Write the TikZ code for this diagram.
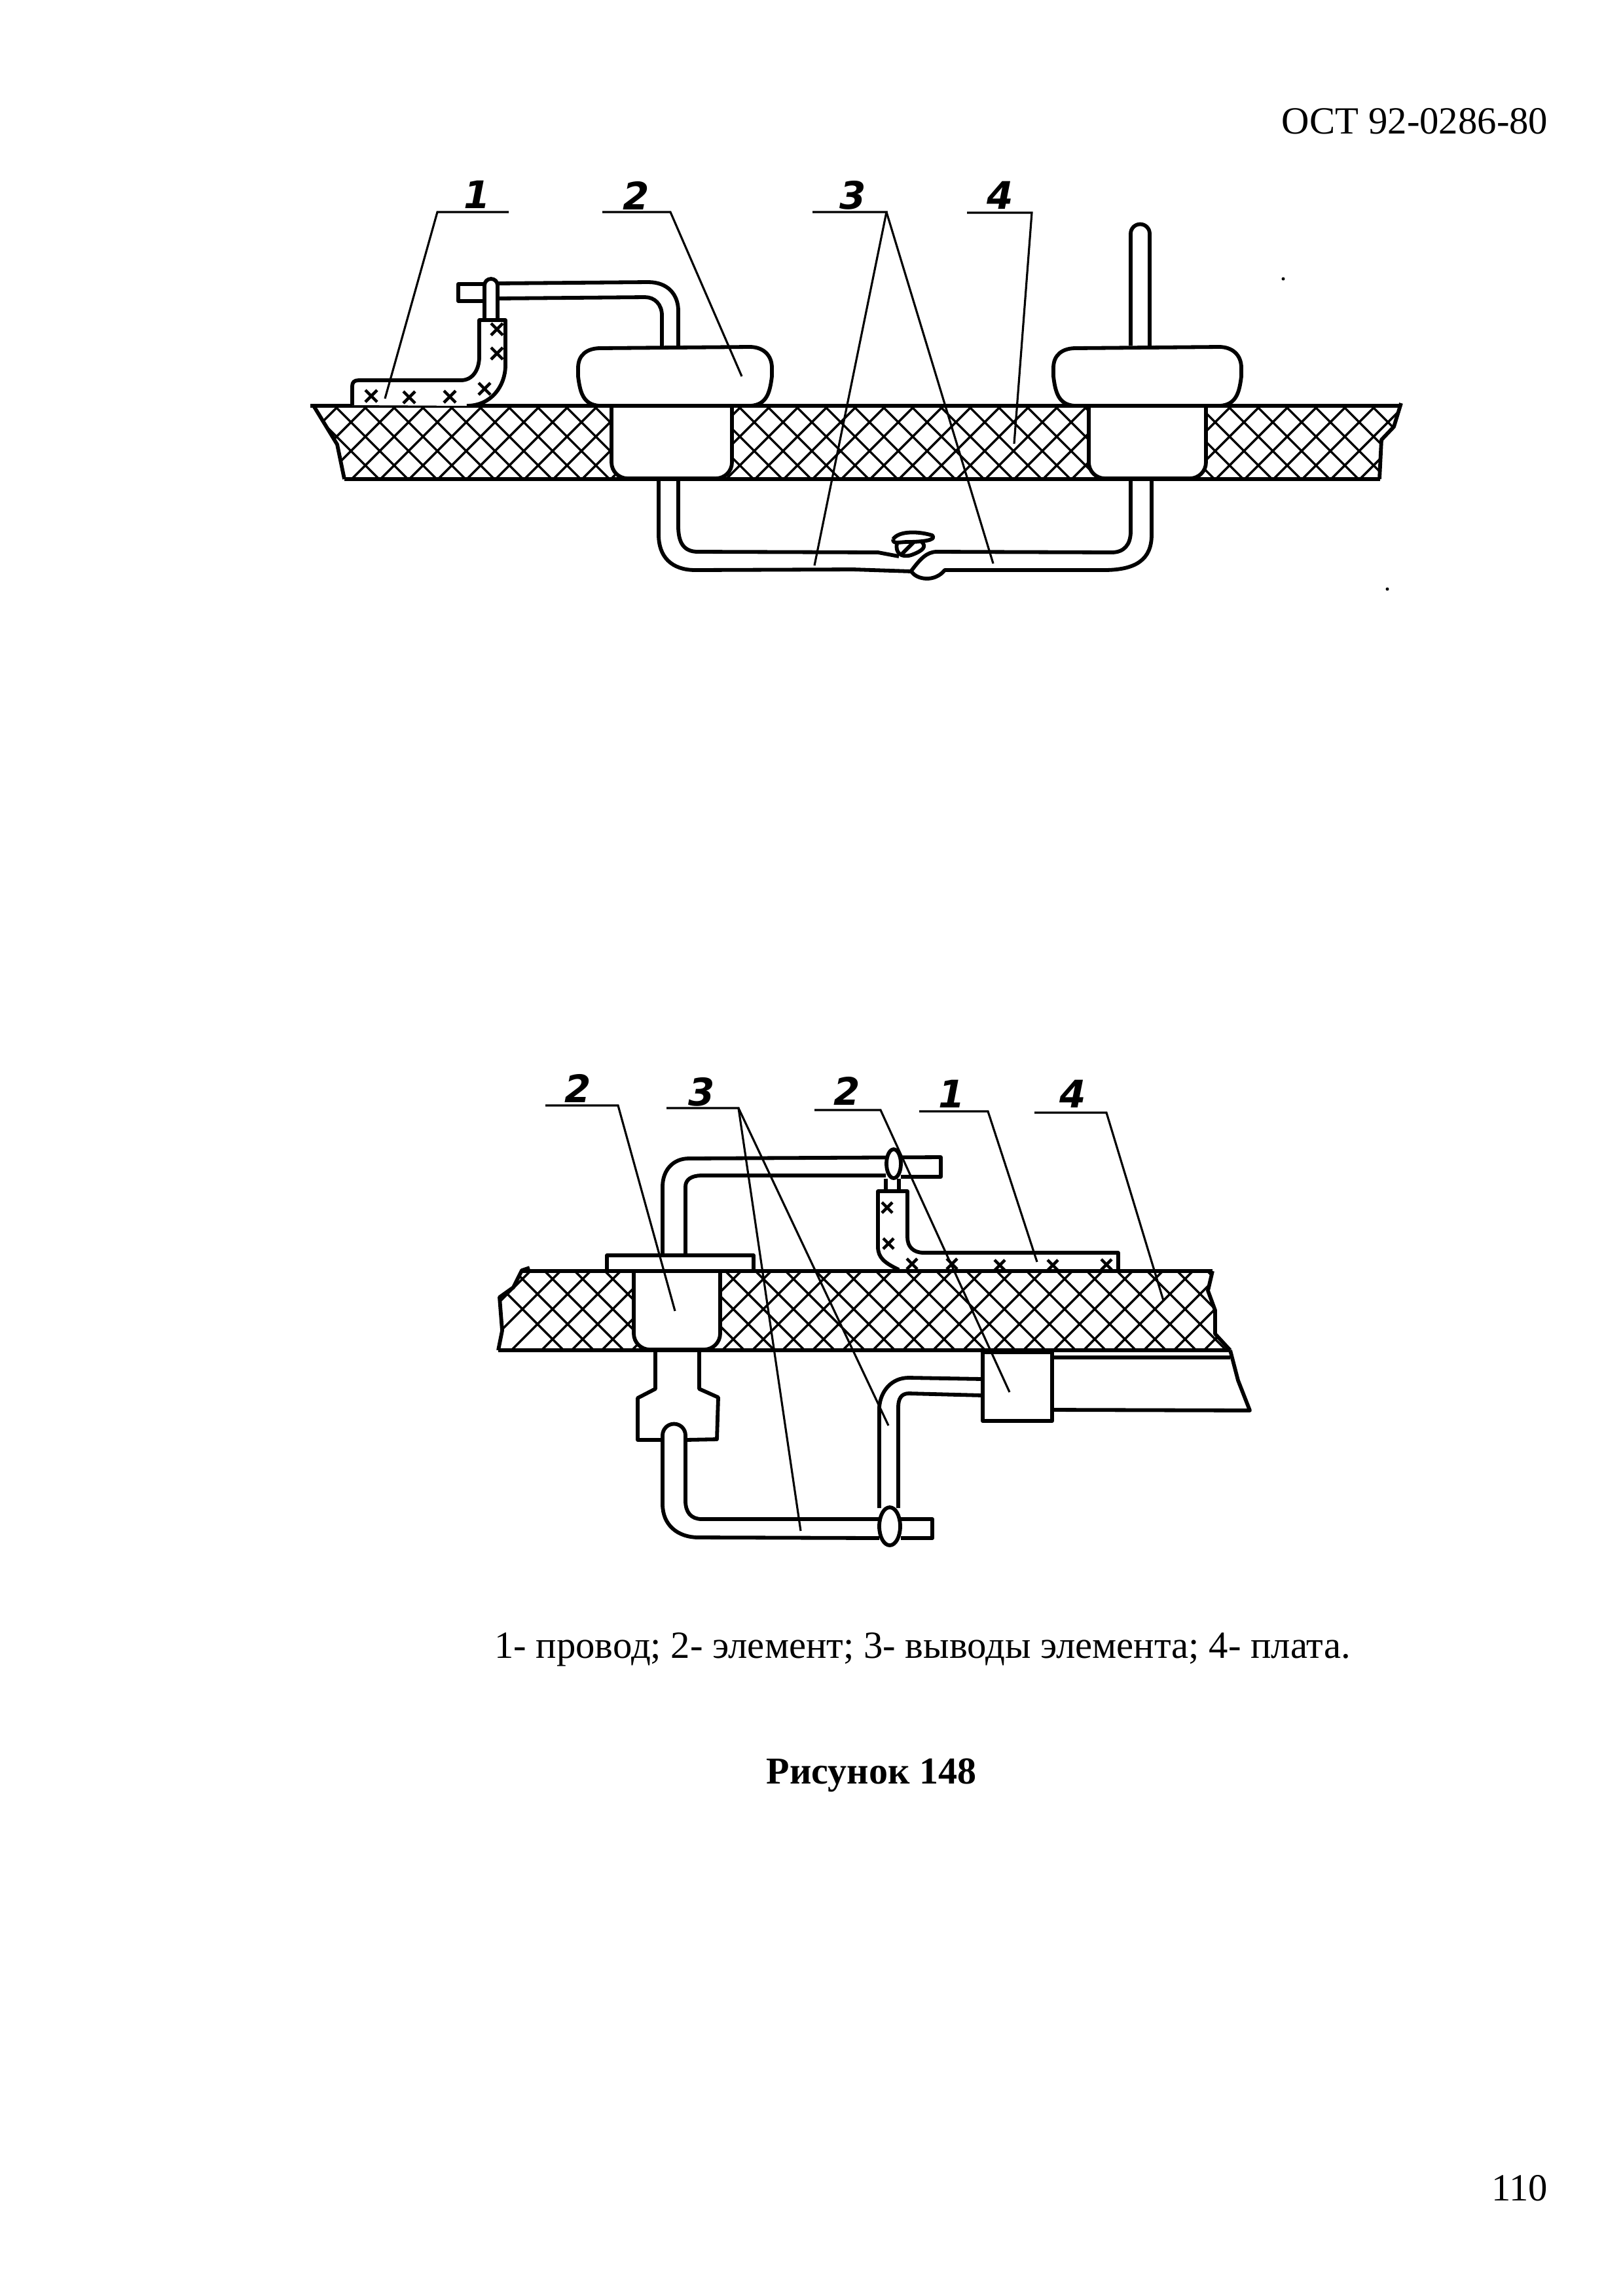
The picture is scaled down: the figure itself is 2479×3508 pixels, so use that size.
\documentclass[tikz,border=0pt]{standalone}
\usepackage{fontspec}
\setmainfont{Liberation Serif}
\newfontfamily\digitfont{DejaVu Sans}
\tikzset{
    contour/.style={line width=1.65pt, line join=round},
    hatchline/.style={line width=1pt},
    leader/.style={line width=0.9pt},
    xmark/.style={line width=1.3pt},
    numeral/.style={font=\digitfont\bfseries\itshape\fontsize{16.5}{17}\selectfont, inner sep=0pt},
    pagetext/.style={font=\fontsize{16.7}{20}\selectfont, inner sep=0pt}
}
\begin{document}
\begin{tikzpicture}[x=0.01cm, y=-0.01cm]
    \useasboundingbox (0,0) rectangle (2479,3508);

    % upper view: board hatching
    \begin{scope}
        \clip (479,620) -- (515,679) -- (526,732) -- (2107,732) -- (2110,672) -- (2129,652) -- (2140,620) -- cycle;
        \foreach \hx in {462,506,...,2150} {
            \draw[hatchline] (\hx,615) -- (\hx+122,737);
        }
        \foreach \hx in {478,522,...,2300} {
            \draw[hatchline] (\hx,615) -- (\hx-122,737);
        }
    \end{scope}
    \draw[contour] (474,620) -- (2140,620);
    \draw[contour] (526,732) -- (2108,732);
    \draw[contour] (479,620) -- (515,679) -- (526,732);
    \draw[contour] (2140,616) -- (2129,652) -- (2110,672) -- (2107,732);

    % upper view: elements
    \foreach \bx/\bw/\cx/\cw in {934/184/883/296, 1663/179/1609/287} {
        \draw[contour, fill=white, rounded corners=7pt] (\bx,620) -- (\bx,731) -- (\bx+\bw,731) -- (\bx+\bw,620);
        \draw[contour, fill=white] (\cx+32,620) .. controls (\cx+8,618) and (\cx+3,600) .. (\cx,575) -- (\cx,562) .. controls (\cx,542) and (\cx+14,532) .. (\cx+34,532) -- (\cx+\cw-34,530) .. controls (\cx+\cw-14,530) and (\cx+\cw,542) .. (\cx+\cw,562) -- (\cx+\cw,575) .. controls (\cx+\cw-3,600) and (\cx+\cw-8,618) .. (\cx+\cw-32,620);
        \draw[contour] (\cx,620) -- (\cx+\cw,620);
    }

    % upper view: leads
    \draw[contour] (1036,529) -- (1036,475) .. controls (1036,450) and (1020,431) .. (990,431) -- (760,433);
    \draw[contour] (740,434) -- (700,434) -- (700,460) -- (740,460);
    \draw[contour] (1011,529) -- (1011,482) .. controls (1011,465) and (1000,454) .. (985,454) -- (762,456);
    \draw[contour] (740,487) -- (740,436) arc (180:360:10) -- (760,487);
    \draw[contour] (1727,528) -- (1727,357) arc (180:360:14.5) -- (1756,528);
    \draw[contour] (1006,734) -- (1006,817) .. controls (1006,850) and (1025,871) .. (1062,871) -- (1303,870) -- (1392,873) .. controls (1400,886) and (1428,890) .. (1443,871) -- (1686,871) .. controls (1735,871) and (1759,855) .. (1759,817) -- (1759,734);
    \draw[contour] (1036,734) -- (1036,804) .. controls (1036,830) and (1045,843) .. (1066,843) -- (1341,844) -- (1373,850);
    \draw[contour] (1392,872) .. controls (1405,855) and (1415,843) .. (1431,843) -- (1698,844) .. controls (1717,844) and (1727,832) .. (1727,812) -- (1727,734);

    % upper view: twist of the leads
    \draw[contour] (1364,824) .. controls (1373,810) and (1405,812) .. (1424,818) .. controls (1432,826) and (1405,828) .. (1386,828) .. controls (1373,828) and (1364,832) .. (1364,824);
    \draw[contour] (1370,830) .. controls (1367,844) and (1376,853) .. (1392,848) .. controls (1411,841) and (1415,835) .. (1408,828);
    \draw[contour] (1396,828) -- (1376,848);

    % upper view: wire with insulation
    \draw[contour, fill=white] (538,619) -- (538,590) .. controls (538,584) and (541,581) .. (548,581) -- (704,581) .. controls (722,581) and (732,565) .. (732,545) -- (732,489) -- (772,489) -- (772,558) .. controls (772,590) and (750,620) .. (713,620);
    \foreach \mx/\my in {567/605, 625/607, 687/606, 740/594, 759/540, 759/503} {
        \draw[xmark] (\mx-9,\my-9) -- (\mx+9,\my+9) (\mx-9,\my+9) -- (\mx+9,\my-9);
    }

    % upper view: leaders and numbers
    \node[numeral] (numA) at (729,297) {1};
    \node[numeral] (numB) at (972,299) {2};
    \node[numeral] (numC) at (1303,298) {3};
    \node[numeral] (numD) at (1528,298) {4};
    \draw[leader] (777,324) -- (668,324) -- (588,609);
    \draw[leader] (920,324) -- (1024,324) -- (1133,575);
    \draw[leader] (1241,324) -- (1354,324) -- (1244,864);
    \draw[leader] (1354,324) -- (1517,861);
    \draw[leader] (1477,325) -- (1576,325) -- (1549,678);

    % lower view: board hatching
    \begin{scope}
        \clip (809,1942) -- (797,1942) -- (784,1967) -- (763,1982) -- (767,2033) -- (761,2063) -- (1879,2063) -- (1856,2038) -- (1856,2002) -- (1845,1972) -- (1852,1942) -- cycle;
        \foreach \hx in {735,781,...,1900} {
            \draw[hatchline] (\hx,1937) -- (\hx+130,2067);
        }
        \foreach \hx in {769,815,...,2100} {
            \draw[hatchline] (\hx,1937) -- (\hx-130,2067);
        }
    \end{scope}
    \draw[contour] (797,1942) -- (1852,1942);
    \draw[contour] (761,2063) -- (1879,2063);
    \draw[contour] (809,1937) -- (797,1941) -- (784,1967) -- (763,1982) -- (767,2033) -- (761,2063);
    \draw[contour] (1852,1942) -- (1845,1972) -- (1856,2002) -- (1856,2038) -- (1879,2063);

    % lower view: element
    \draw[contour, fill=white, rounded corners=7pt] (968,1942) -- (968,2062) -- (1100,2062) -- (1100,1942);
    \draw[contour] (968,1942) -- (1100,1942);
    \draw[contour] (927,1940) -- (927,1918) -- (1151,1918) -- (1151,1940);
    \draw[contour] (1001,2066) -- (1001,2122) -- (974,2136) -- (974,2200) -- (1012,2200);
    \draw[contour] (1068,2066) -- (1068,2122) -- (1097,2135) -- (1095,2199) -- (1047,2200);
    \draw[contour] (1012,2298) -- (1012,2193) arc (180:360:17.5) -- (1047,2293) .. controls (1047,2310) and (1055,2321) .. (1072,2321) -- (1343,2321);
    \draw[contour] (1012,2298) .. controls (1012,2330) and (1035,2349) .. (1067,2349) -- (1343,2350);
    \draw[contour] (1376,2321) -- (1424,2321) -- (1424,2350) -- (1376,2350);
    \draw[contour] (1343,2304) -- (1343,2150) .. controls (1345,2125) and (1362,2105) .. (1388,2105) -- (1501,2107);
    \draw[contour] (1372,2304) -- (1372,2150) .. controls (1372,2138) and (1376,2129) .. (1388,2129) -- (1501,2132);
    \draw[contour, fill=white] (1359,2332) ellipse (16 and 29);
    \draw[contour] (1012,1917) -- (1012,1813) .. controls (1012,1788) and (1028,1770) .. (1052,1770) -- (1437,1768) -- (1437,1798) -- (1376,1798);
    \draw[contour] (1047,1917) -- (1047,1813) .. controls (1047,1803) and (1055,1796) .. (1072,1796) -- (1353,1796);
    \draw[contour] (1353,1801) -- (1353,1819) (1373,1801) -- (1373,1819);
    \draw[contour, fill=white] (1365,1778) ellipse (11 and 22);

    % lower view: wire with insulation
    \draw[contour] (1373,1940) .. controls (1352,1930) and (1341,1922) .. (1341,1905) -- (1341,1820) -- (1386,1820) -- (1386,1890) .. controls (1386,1905) and (1395,1914) .. (1411,1914) -- (1708,1914) -- (1708,1941);
    \foreach \mx/\my in {1355/1845, 1357/1900, 1393/1931, 1454/1931, 1527/1933, 1608/1933, 1690/1932} {
        \draw[xmark] (\mx-8,\my-8) -- (\mx+8,\my+8) (\mx-8,\my+8) -- (\mx+8,\my-8);
    }

    % lower view: second wire and its block
    \draw[contour, fill=white] (1501,2066) rectangle (1607,2171);
    \draw[contour] (1607,2074) -- (1879,2074);
    \draw[contour] (1607,2154) -- (1909,2155) -- (1891,2109) -- (1879,2063);

    % lower view: leaders and numbers
    \node[numeral] (numE) at (883,1663) {2};
    \node[numeral] (numF) at (1072,1668) {3};
    \node[numeral] (numG) at (1294,1667) {2};
    \node[numeral] (numH) at (1454,1671) {1};
    \node[numeral] (numI) at (1639,1671) {4};
    \draw[leader] (833,1689) -- (944,1689) -- (1031,2003);
    \draw[leader] (1018,1693) -- (1128,1693) -- (1223,2339);
    \draw[leader] (1128,1693) -- (1357,2178);
    \draw[leader] (1244,1696) -- (1345,1696) -- (1542,2127);
    \draw[leader] (1404,1698) -- (1509,1698) -- (1584,1928);
    \draw[leader] (1580,1700) -- (1690,1700) -- (1777,1987);

    % specks of the scan
    \fill (1960,426) circle (2.5);
    \fill (2119,900) circle (2.5);

    % page texts
    \node[pagetext, anchor=east] (header) at (2365,185) {ОСТ 92-0286-80};
    \node[pagetext] (legend) at (1409,2520) {1- провод; 2- элемент; 3- выводы элемента; 4- плата.};
    \node[pagetext, font=\bfseries\fontsize{16.5}{20}\selectfont] (caption) at (1331,2712) {Рисунок 148};
    \node[pagetext, anchor=east] (pagenum) at (2365,3343) {110};
\end{tikzpicture}
\end{document}
